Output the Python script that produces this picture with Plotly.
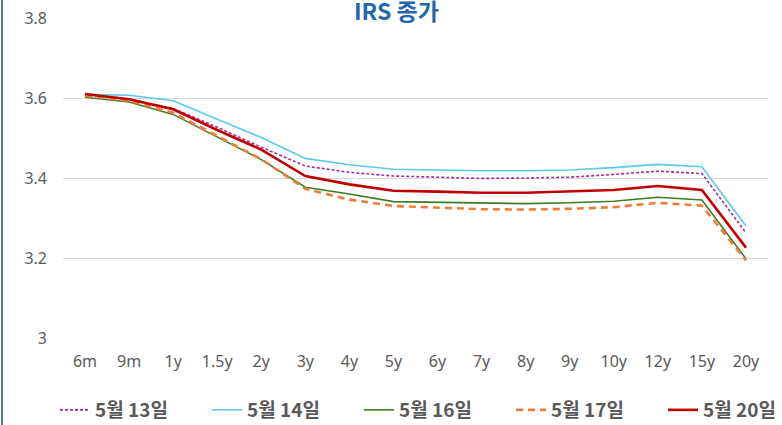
import plotly.graph_objects as go

tenors = ["6m", "9m", "1y", "1.5y", "2y", "3y", "4y", "5y", "6y", "7y", "8y", "9y", "10y", "12y", "15y", "20y"]
y_ticks = [3, 3.2, 3.4, 3.6, 3.8]
y_tick_labels = ["3", "3.2", "3.4", "3.6", "3.8"]

may13 = [3.608, 3.597, 3.574, 3.527, 3.477, 3.430, 3.414, 3.405, 3.402, 3.399, 3.400, 3.402, 3.409, 3.417, 3.411, 3.263]
may14 = [3.609, 3.607, 3.593, 3.548, 3.501, 3.449, 3.433, 3.422, 3.420, 3.418, 3.418, 3.420, 3.426, 3.434, 3.428, 3.280]
may16 = [3.602, 3.590, 3.559, 3.502, 3.446, 3.377, 3.360, 3.341, 3.339, 3.337, 3.336, 3.338, 3.342, 3.352, 3.345, 3.198]
may17 = [3.606, 3.593, 3.563, 3.504, 3.447, 3.373, 3.346, 3.330, 3.326, 3.322, 3.321, 3.323, 3.327, 3.338, 3.331, 3.194]
may20 = [3.610, 3.597, 3.572, 3.520, 3.471, 3.405, 3.384, 3.368, 3.366, 3.363, 3.363, 3.366, 3.370, 3.380, 3.370, 3.226]

series = [
    ("5월 13일", may13, "#A0309A", 1.6, "3px,2px"),
    ("5월 14일", may14, "#5CC8F2", 1.6, "solid"),
    ("5월 16일", may16, "#3C7D23", 1.6, "solid"),
    ("5월 17일", may17, "#EE7D3B", 2.6, "7px,5px"),
    ("5월 20일", may20, "#C00000", 2.6, "solid"),
]

fig = go.Figure()
for name, vals, color, width, dash in series:
    fig.add_trace(go.Scatter(
        x=tenors, y=vals, name=name, mode="lines",
        line=dict(color=color, width=width, dash=dash),
    ))

fig.update_layout(
    template="none",
    width=782, height=425,
    margin=dict(l=63, r=14, t=18, b=87, autoexpand=False),
    paper_bgcolor="white", plot_bgcolor="white",
    showlegend=True,
    legend=dict(
        orientation="h", x=(55 - 63) / 705, xanchor="left", y=-0.225, yanchor="middle",
        font=dict(family="Noto Sans CJK KR", size=19, color="#595959", weight="bold"),
        bgcolor="rgba(0,0,0,0)", entrywidth=107,
    ),
    font=dict(family="Noto Sans", color="#595959"),
)
fig.update_xaxes(
    type="category", range=[-0.5, len(tenors) - 0.5], automargin=False,
    showgrid=False, zeroline=False, showline=False,
    tickfont=dict(family="Noto Sans", size=16, color="#595959"),
    ticks="", ticklabelstandoff=12,
)
fig.update_yaxes(
    range=[3, 3.8], tickvals=y_ticks, ticktext=y_tick_labels, automargin=False,
    showgrid=True, gridcolor="#D9D9D9", gridwidth=1, zeroline=False, showline=False,
    tickfont=dict(family="Noto Sans", size=16, color="#595959"),
    ticks="", ticklabelstandoff=15,
)
fig.add_annotation(
    text="IRS 종가", xref="paper", yref="paper", x=(396 - 63) / 705, y=1,
    xanchor="center", yanchor="bottom", yshift=-11, showarrow=False,
    font=dict(family="Noto Sans CJK KR", size=23, color="#2466AC", weight="bold"),
)
fig.add_shape(
    type="line", xref="paper", yref="paper",
    x0=-61 / 705, x1=-61 / 705, y0=-87 / 320, y1=1 + 18 / 320,
    line=dict(color="#1F4E79", width=1.5),
)
fig.write_html(
    "out.html",
    config={"displayModeBar": False},
    post_script="document.body.style.margin='0px';",
)
